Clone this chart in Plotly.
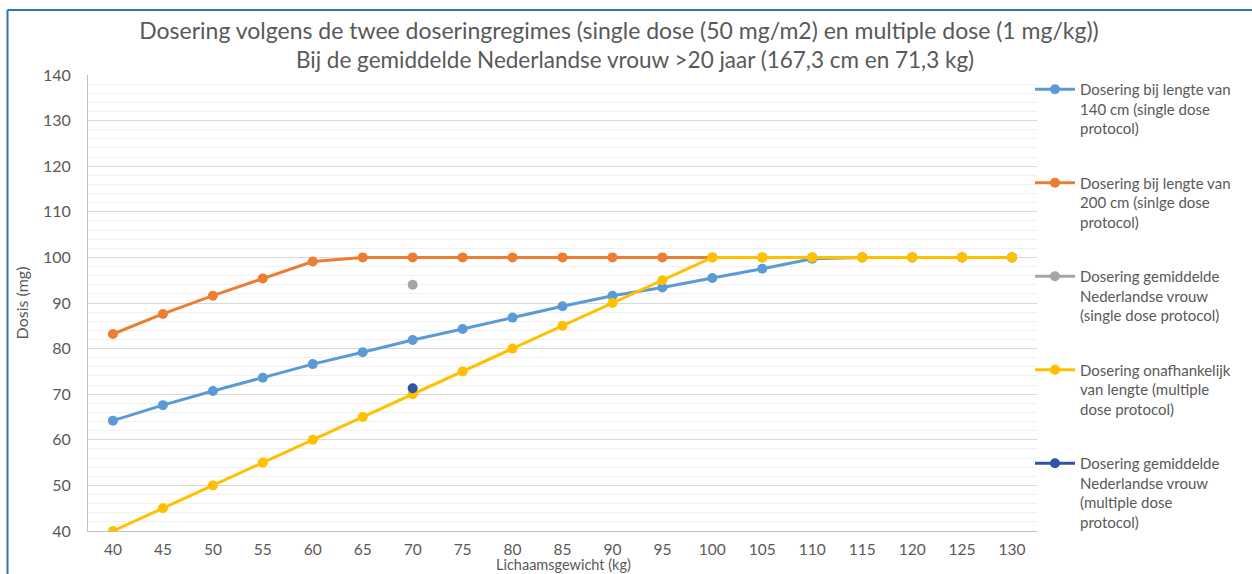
import plotly.graph_objects as go

weights = [40, 45, 50, 55, 60, 65, 70, 75, 80, 85, 90, 95, 100, 105, 110, 115, 120, 125, 130]
categories = [str(w) for w in weights]

dose_140cm = [64.2, 67.6, 70.7, 73.6, 76.6, 79.2, 81.9, 84.3, 86.8, 89.3, 91.6, 93.4, 95.5, 97.5, 99.7, 100, 100, 100, 100]
dose_200cm = [83.2, 87.6, 91.6, 95.4, 99.1, 100, 100, 100, 100, 100, 100, 100, 100, 100, 100, 100, 100, 100, 100]
avg_single_x = ["70"]
avg_single_y = [94.0]
dose_multiple = [40, 45, 50, 55, 60, 65, 70, 75, 80, 85, 90, 95, 100, 100, 100, 100, 100, 100, 100]
avg_multiple_x = ["70"]
avg_multiple_y = [71.3]

names = [
    "Dosering bij lengte van<br>140 cm (single dose<br>protocol)",
    "Dosering bij lengte van<br>200 cm (sinlge dose<br>protocol)",
    "Dosering gemiddelde<br>Nederlandse vrouw<br>(single dose protocol)",
    "Dosering onafhankelijk<br>van lengte (multiple<br>dose protocol)",
    "Dosering gemiddelde<br>Nederlandse vrouw<br>(multiple dose<br>protocol)",
]
colors = ["#5b9bd5", "#ed7d31", "#a5a5a5", "#ffc000", "#2f55a4"]

FONT = "Lato, 'Open Sans', sans-serif"
TXT = "#595959"

fig = go.Figure()
series = [
    (categories, dose_140cm),
    (categories, dose_200cm),
    (avg_single_x, avg_single_y),
    (categories, dose_multiple),
    (avg_multiple_x, avg_multiple_y),
]
for i, ((xs, ys), nm, c) in enumerate(zip(series, names, colors)):
    fig.add_trace(go.Scatter(
        x=xs, y=ys, name=nm, mode="lines+markers",
        line=dict(color=c, width=3),
        marker=dict(color=c, size=10, symbol="circle"),
        legendgroup=f"g{i}",
    ))

fig.update_layout(
    width=1252, height=574,
    margin=dict(l=88, r=215, t=75, b=43),
    paper_bgcolor="white", plot_bgcolor="white",
    font=dict(family=FONT, color=TXT, size=16),
    showlegend=True,
    title=dict(
        text="Dosering volgens de twee doseringregimes (single dose (50 mg/m2) en multiple dose (1 mg/kg))",
        x=619 / 1252, xanchor="center", xref="container",
        y=1 - 31 / 574, yanchor="middle", yref="container",
        font=dict(size=23, color=TXT, family=FONT),
    ),
    legend=dict(
        x=(1030 - 88) / 949, xanchor="left", y=(531 - 73) / 456, yanchor="top",
        font=dict(size=15, color=TXT, family=FONT),
        valign="top", tracegroupgap=32, itemwidth=40,
        maxheight=540,
        bgcolor="rgba(0,0,0,0)",
    ),
    xaxis=dict(
        type="category", categoryorder="array", categoryarray=categories,
        range=[-0.5, 18.5], showgrid=False, zeroline=False,
        showline=True, linecolor="#bfbfbf", linewidth=1,
        ticks="", tickfont=dict(size=15.5, color=TXT), ticklabelstandoff=4,
        automargin=False,
    ),
    yaxis=dict(
        range=[40, 140], tick0=40, dtick=10,
        showgrid=True, gridcolor="#d9d9d9", gridwidth=1,
        minor=dict(dtick=2, showgrid=True, gridcolor="#f0f0f0", gridwidth=1),
        zeroline=False, showline=True, linecolor="#bfbfbf", linewidth=1,
        ticks="", tickfont=dict(size=16, color=TXT), ticklabelstandoff=13,
        title=dict(text="Dosis (mg)", standoff=10, font=dict(size=16, color=TXT)),
        automargin=False,
    ),
    annotations=[
        dict(
            text="Bij de gemiddelde Nederlandse vrouw >20 jaar (167,3 cm en 71,3 kg)",
            xref="paper", yref="paper",
            x=(635 - 88) / 949, y=(531 - 60) / 456,
            xanchor="center", yanchor="middle", showarrow=False,
            font=dict(size=22.5, color=TXT, family=FONT),
        ),
        dict(
            text="Lichaamsgewicht (kg)",
            xref="paper", yref="paper",
            x=(563 - 88) / 949, y=(531 - 575) / 456,
            xanchor="center", yanchor="bottom", showarrow=False,
            font=dict(size=14.5, color=TXT, family=FONT),
        ),
    ],
    shapes=[
        dict(type="line", xref="paper", yref="paper",
             x0=(7.5 - 88) / 949, x1=(7.5 - 88) / 949, y0=(531 - 10) / 456, y1=(531 - 600) / 456,
             line=dict(color="#2e75b6", width=2)),
        dict(type="line", xref="paper", yref="paper",
             x0=(7.5 - 88) / 949, x1=(1300 - 88) / 949, y0=(531 - 10) / 456, y1=(531 - 10) / 456,
             line=dict(color="#2e75b6", width=2)),
    ],
)

fig.write_html("out.html")
